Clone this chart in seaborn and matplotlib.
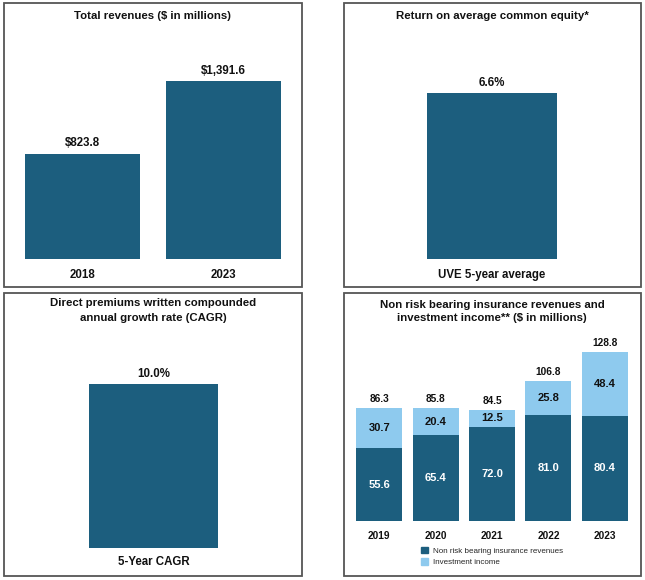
import matplotlib
matplotlib.use("Agg")
import matplotlib.pyplot as plt
import seaborn as sns
import pandas as pd
from matplotlib.patches import Rectangle, Patch

# --- data ---
rev_years = ["2018", "2023"]
rev_values = [823.8, 1391.6]

roe_labels = ["UVE 5-year average"]
roe_values = [6.6]

cagr_labels = ["5-Year CAGR"]
cagr_values = [10.0]

nr_years = ["2019", "2020", "2021", "2022", "2023"]
nr_insurance = [55.6, 65.4, 72.0, 81.0, 80.4]
nr_investment = [30.7, 20.4, 12.5, 25.8, 48.4]

DARK = "#1c5e7e"
LIGHT = "#8ecaee"
W, H = 645, 580

sns.set_style("white")
plt.rcParams["font.family"] = ["Liberation Sans", "DejaVu Sans"]

fig = plt.figure(figsize=(W / 100, H / 100), dpi=100)


def px_axes(x0, x1, ytop, ybot):
    """Add axes from pixel coordinates (origin top-left)."""
    return fig.add_axes([x0 / W, 1 - ybot / H, (x1 - x0) / W, (ybot - ytop) / H])


def border(x0, y0, x1, y1):
    fig.add_artist(Rectangle((x0 / W, 1 - y1 / H), (x1 - x0) / W, (y1 - y0) / H,
                             transform=fig.transFigure, fill=False,
                             edgecolor="#555555", linewidth=1.3))


def title(x, y, s):
    fig.text(x / W, 1 - y / H, s, ha="center", va="center",
             fontsize=8.2, fontweight="bold", color="#111111")


def clean(ax, pad=7, size=8.3):
    ax.set_xlabel("")
    ax.set_ylabel("")
    ax.set_yticks([])
    sns.despine(ax=ax, left=True, bottom=True)
    ax.tick_params(axis="x", length=0, pad=pad, labelsize=size)
    for t in ax.get_xticklabels():
        t.set_fontweight("bold")
        t.set_color("#111111")


# --- panel borders ---
border(4, 3, 302, 287)
border(344, 3, 641, 287)
border(4, 293, 302, 576)
border(344, 293, 641, 576)

# --- 1. Total revenues ---
ax1 = px_axes(12, 294, 40, 259)
sns.barplot(x=rev_years, y=rev_values, color=DARK, saturation=1,
            width=0.816, linewidth=0, ax=ax1)
ax1.set_ylim(0, 1712)
ax1.bar_label(ax1.containers[0], labels=[f"${v:,.1f}" for v in rev_values],
              padding=3, fontsize=8.3, fontweight="bold", color="#111111")
clean(ax1)
title(153, 16, "Total revenues ($ in millions)")

# --- 2. Return on average common equity ---
ax2 = px_axes(344, 640, 40, 259)
sns.barplot(x=roe_labels, y=roe_values, color=DARK, saturation=1,
            width=130 / 296, linewidth=0, ax=ax2)
ax2.set_ylim(0, 8.69)
ax2.bar_label(ax2.containers[0], labels=[f"{v:.1f}%" for v in roe_values],
              padding=3, fontsize=8.3, fontweight="bold", color="#111111")
clean(ax2)
title(492, 16, "Return on average common equity*")

# --- 3. Direct premiums written CAGR ---
ax3 = px_axes(5, 302, 330, 548)
sns.barplot(x=cagr_labels, y=cagr_values, color=DARK, saturation=1,
            width=129 / 297, linewidth=0, ax=ax3)
ax3.set_ylim(0, 13.3)
ax3.bar_label(ax3.containers[0], labels=[f"{v:.1f}%" for v in cagr_values],
              padding=3, fontsize=8.3, fontweight="bold", color="#111111")
clean(ax3, pad=6)
title(153, 303, "Direct premiums written compounded")
title(153, 318, "annual growth rate (CAGR)")

# --- 4. Non risk bearing revenues + investment income (stacked) ---
nr = pd.DataFrame({"year": nr_years, "insurance": nr_insurance,
                   "investment": nr_investment})
nr["total"] = nr["insurance"] + nr["investment"]

ax4 = px_axes(351, 633, 340, 521)
# light bar = full total, dark bar drawn over it = insurance part
sns.barplot(data=nr, x="year", y="total", color=LIGHT, saturation=1,
            width=0.816, linewidth=0, ax=ax4)
sns.barplot(data=nr, x="year", y="insurance", color=DARK, saturation=1,
            width=0.816, linewidth=0, ax=ax4)
ax4.set_ylim(0, 138)

for i, row in nr.iterrows():
    ax4.text(i, row["insurance"] / 2, f"{row['insurance']:.1f}", ha="center",
             va="center", color="white", fontsize=8, fontweight="bold")
    ax4.text(i, row["insurance"] + row["investment"] / 2, f"{row['investment']:.1f}",
             ha="center", va="center", color="#111111", fontsize=8, fontweight="bold")
ax4.bar_label(ax4.containers[0], labels=[f"{v:.1f}" for v in nr["total"]],
              padding=3, fontsize=7.3, fontweight="bold", color="#111111")
clean(ax4, pad=7, size=7.3)
title(492, 305, "Non risk bearing insurance revenues and")
title(492, 318, "investment income** ($ in millions)")

handles = [Patch(color=DARK, label="Non risk bearing insurance revenues"),
           Patch(color=LIGHT, label="Investment income")]
fig.legend(handles=handles, loc="upper left",
           bbox_to_anchor=(421 / W, 1 - 547 / H), frameon=False,
           fontsize=5.8, handlelength=0.85, handleheight=0.85,
           handletextpad=0.6, labelspacing=0.4, borderpad=0, borderaxespad=0)

plt.savefig("out.png", dpi=100)
plt.close()
